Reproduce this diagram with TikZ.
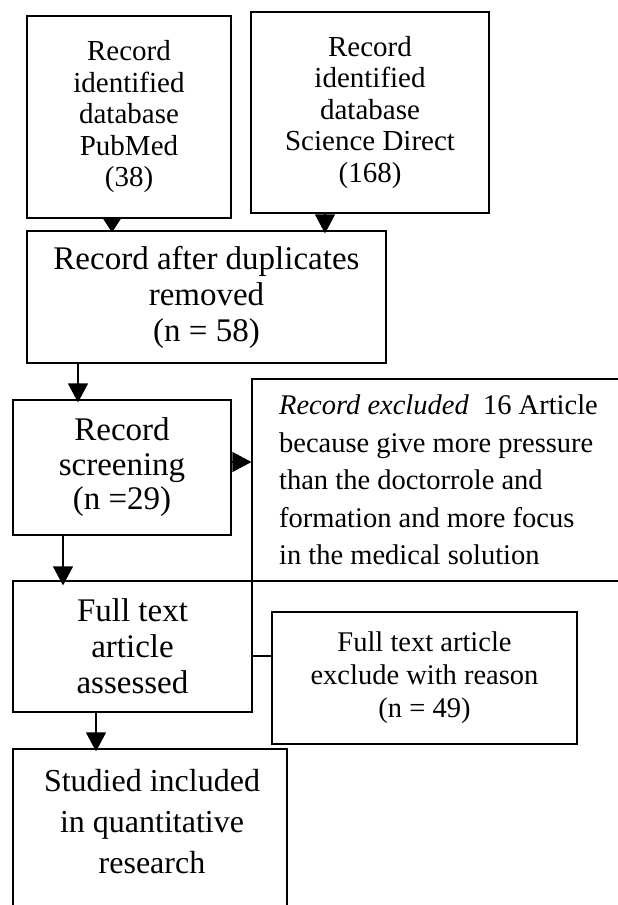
\documentclass[tikz,border=0pt]{standalone}
\usepackage{fontspec}
\setmainfont{Liberation Serif}
\usetikzlibrary{arrows.meta}
\begin{document}
\begin{tikzpicture}[x=1pt,y=-1pt,
  box/.style={draw, line width=1.2pt, inner sep=0pt, align=center},
  arr/.style={line width=1.2pt, -{Triangle[width=20pt,length=19pt]}},
  sarr/.style={line width=1.2pt, -{Triangle[width=18pt,length=14pt]}},
  conn/.style={line width=1.2pt}]
\useasboundingbox (0,0) rectangle (618,905);
\clip (0,0) rectangle (618,905);
\fill[white] (0,0) rectangle (618,905);

\node[box, minimum width=204pt, minimum height=202pt,
      font=\fontsize{29}{31.5}\selectfont] (A) at (129,117)
  {Record\\identified\\database\\PubMed\\(38)};
\node[box, minimum width=238pt, minimum height=201pt,
      font=\fontsize{29}{31.5}\selectfont] (B) at (370,112.5)
  {Record\\identified\\database\\Science Direct\\(168)};
\node[box, minimum width=359pt, minimum height=132pt,
      font=\fontsize{33}{36}\selectfont] (C) at (206.5,297)
  {Record after duplicates\\removed\\(n = 58)};
\node[box, minimum width=218pt, minimum height=135pt,
      font=\fontsize{33}{34.5}\selectfont] (D) at (122,467.5)
  {Record\\screening\\(n =29)};
\node[box, align=left, minimum width=373pt, minimum height=202pt,
      font=\fontsize{28.5}{37.5}\selectfont] (E) at (438.5,480)
  {\textit{Record excluded}\ \ 16 Article\\because give more pressure\\than the doctorrole and\\formation and more focus\\in the medical solution};
\node[box, minimum width=239pt, minimum height=131pt,
      font=\fontsize{33}{36}\selectfont] (F) at (132.5,646.5)
  {Full text\\article\\assessed};
\node[box, minimum width=305pt, minimum height=132pt,
      font=\fontsize{28.5}{33}\selectfont] (G) at (424.5,678)
  {Full text article\\exclude with reason\\(n = 49)};
\node[box, minimum width=274pt, minimum height=176pt] (H) at (150,837) {};
\node[align=center, inner sep=0pt, font=\fontsize{32}{41}\selectfont] (Ht) at (152,822)
  {Studied included\\in quantitative\\research};

\coordinate (xa) at (112,0);
\coordinate (xb) at (325,0);
\coordinate (xc) at (78,0);
\coordinate (ye) at (0,462);
\coordinate (xd) at (63,0);
\coordinate (yg) at (0,656);
\coordinate (xf) at (96,0);

\draw[sarr] (A.south -| xa) -- ([yshift=-2pt]C.north -| xa);
\draw[arr] (B.south -| xb) -- ([yshift=-3pt]C.north -| xb);
\draw[arr] (C.south -| xc) -- ([yshift=-3pt]D.north -| xc);
\draw[arr] (D.east |- ye) -- (E.west |- ye);
\draw[arr] (D.south -| xd) -- ([yshift=-5pt]F.north -| xd);
\draw[conn] (F.east |- yg) -- (G.west |- yg);
\draw[arr] (F.south -| xf) -- ([yshift=-3pt]H.north -| xf);
\end{tikzpicture}
\end{document}
